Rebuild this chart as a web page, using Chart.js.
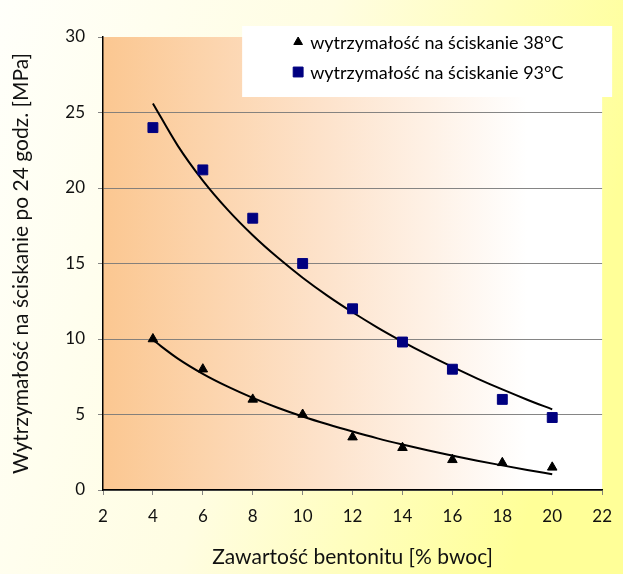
<!DOCTYPE html>
<html lang="pl">
<head>
<meta charset="utf-8">
<title>Wytrzymałość na ściskanie</title>
<script src="https://cdn.jsdelivr.net/npm/chart.js@4/dist/chart.umd.min.js"></script>
<style>
    html, body { margin: 0; padding: 0; background: #ffffff; }
    #wrap { width: 623px; height: 574px; }
</style>
</head>
<body>
<div id="wrap"><canvas id="scatterChart" width="623" height="574"></canvas></div>
<script>
"use strict";

// pomiary: zawartość bentonitu [% bwoc]
const bentonite = [4, 6, 8, 10, 12, 14, 16, 18, 20];
// wytrzymałość po 24 godz. [MPa]
const strength38 = [10, 8, 6, 5, 3.5, 2.8, 2.0, 1.8, 1.5];
const strength93 = [24, 21.2, 18, 15, 12, 9.8, 8, 6, 4.8];

// linie trendu (odczytane co 1 %)
const trendX = [4, 5, 6, 7, 8, 9, 10, 11, 12, 13, 14, 15, 16, 17, 18, 19, 20];
const trend38 = [9.93, 8.70, 7.69, 6.84, 6.10, 5.45, 4.87, 4.35, 3.87, 3.42, 3.01, 2.63, 2.28, 1.94, 1.63, 1.33, 1.05];
const trend93 = [25.6, 22.79, 20.49, 18.55, 16.87, 15.39, 14.06, 12.86, 11.77, 10.76, 9.83, 8.96, 8.15, 7.38, 6.66, 5.98, 5.34];

const xTicks = [2, 4, 6, 8, 10, 12, 14, 16, 18, 20, 22];
const yTicks = [0, 5, 10, 15, 20, 25, 30];

const seriesLabels = ['wytrzymałość na ściskanie 38°C', 'wytrzymałość na ściskanie 93°C'];

const FONT = 'Lato, "Open Sans", sans-serif';
const NAVY = '#000080';
const GRID = 'rgba(120,120,120,0.9)';

function toPoints(xs, ys) {
    return xs.map((x, i) => ({ x: x, y: ys[i] }));
}

/* tło całego wykresu i gradient obszaru danych */
const backgroundPlugin = {
    id: 'backgrounds',
    beforeDraw(chart) {
        const { ctx, width, height, chartArea } = chart;
        ctx.save();
        const bg = ctx.createLinearGradient(0, 0, width, height * 0.3);
        bg.addColorStop(0, '#FFFFFA');
        bg.addColorStop(0.5, '#FFFDE2');
        bg.addColorStop(1, '#FFFF98');
        ctx.fillStyle = bg;
        ctx.fillRect(0, 0, width, height);

        const area = ctx.createLinearGradient(chartArea.left, 0, chartArea.right, 0);
        area.addColorStop(0, '#FBC791');
        area.addColorStop(0.45, '#FDE3CC');
        area.addColorStop(0.85, '#FFFFFF');
        area.addColorStop(1, '#FFFFFF');
        ctx.fillStyle = area;
        ctx.fillRect(chartArea.left, chartArea.top, chartArea.right - chartArea.left, chartArea.bottom - chartArea.top);
        ctx.restore();
    }
};

/* legenda w białym prostokącie w prawym górnym rogu */
const legendBoxPlugin = {
    id: 'legendBox',
    afterDraw(chart) {
        const { ctx, chartArea } = chart;
        const left = chartArea.right - 360;
        const top = chartArea.top - 11;
        ctx.save();
        ctx.fillStyle = '#FFFFFF';
        ctx.fillRect(left, top, 370, 71);

        const markers = [
            { style: 'triangle', radius: 5, color: '#000000', y: top + 16 },
            { style: 'rect', radius: 7, color: NAVY, y: top + 46 }
        ];
        ctx.font = '18px ' + FONT;
        ctx.textBaseline = 'middle';
        markers.forEach((m, i) => {
            ctx.fillStyle = m.color;
            ctx.strokeStyle = m.color;
            ctx.lineWidth = 1;
            Chart.helpers.drawPoint(ctx, { pointStyle: m.style, radius: m.radius, rotation: 0, borderWidth: 1 }, left + 56, m.y);
            ctx.fillStyle = '#000000';
            ctx.fillText(seriesLabels[i], left + 68, m.y + 1);
        });
        ctx.restore();
    }
};

const ctx = document.getElementById('scatterChart');

new Chart(ctx, {
    type: 'scatter',
    data: {
        datasets: [
            {
                label: seriesLabels[0],
                data: toPoints(bentonite, strength38),
                pointStyle: 'triangle',
                pointRadius: 5.5,
                backgroundColor: '#000000',
                borderColor: '#000000',
                borderWidth: 1
            },
            {
                label: seriesLabels[1],
                data: toPoints(bentonite, strength93),
                pointStyle: 'rect',
                pointRadius: 7,
                backgroundColor: NAVY,
                borderColor: NAVY,
                borderWidth: 1
            },
            {
                label: 'trend 38°C',
                data: toPoints(trendX, trend38),
                showLine: true,
                pointRadius: 0,
                borderColor: '#000000',
                borderWidth: 2,
                cubicInterpolationMode: 'monotone'
            },
            {
                label: 'trend 93°C',
                data: toPoints(trendX, trend93),
                showLine: true,
                pointRadius: 0,
                borderColor: '#000000',
                borderWidth: 2,
                cubicInterpolationMode: 'monotone'
            }
        ]
    },
    options: {
        responsive: false,
        animation: false,
        layout: {
            padding: { left: 0, top: 37, right: 17, bottom: 0 }
        },
        plugins: {
            legend: { display: false },
            tooltip: { enabled: false }
        },
        scales: {
            x: {
                type: 'linear',
                min: xTicks[0],
                max: xTicks[xTicks.length - 1],
                afterFit: scale => { scale.height = 84; },
                afterBuildTicks: scale => { scale.ticks = xTicks.map(v => ({ value: v })); },
                ticks: {
                    color: '#111111',
                    font: { family: FONT, size: 17 },
                    padding: 11
                },
                grid: {
                    drawOnChartArea: false,
                    drawTicks: true,
                    tickLength: 5,
                    tickColor: GRID
                },
                border: { color: '#000000', width: 1.5 },
                title: {
                    display: true,
                    text: 'Zawartość bentonitu [% bwoc]',
                    color: '#111111',
                    font: { family: FONT, size: 21 },
                    padding: { top: 0, bottom: 4 }
                }
            },
            y: {
                type: 'linear',
                min: yTicks[0],
                max: yTicks[yTicks.length - 1],
                afterFit: scale => { scale.width = 103; },
                afterBuildTicks: scale => { scale.ticks = yTicks.map(v => ({ value: v })); },
                ticks: {
                    color: '#111111',
                    font: { family: FONT, size: 17 },
                    padding: 13
                },
                grid: {
                    color: c => (c.tick && c.tick.value === 30) ? 'rgba(0,0,0,0)' : GRID,
                    tickColor: GRID,
                    tickLength: 5,
                    lineWidth: 1
                },
                border: { color: '#000000', width: 1.5 },
                title: {
                    display: true,
                    text: 'Wytrzymałość na ściskanie po 24 godz. [MPa]',
                    color: '#111111',
                    font: { family: FONT, size: 21 },
                    padding: { top: 9, bottom: 0 }
                }
            }
        }
    },
    plugins: [backgroundPlugin, legendBoxPlugin]
});
</script>
</body>
</html>
